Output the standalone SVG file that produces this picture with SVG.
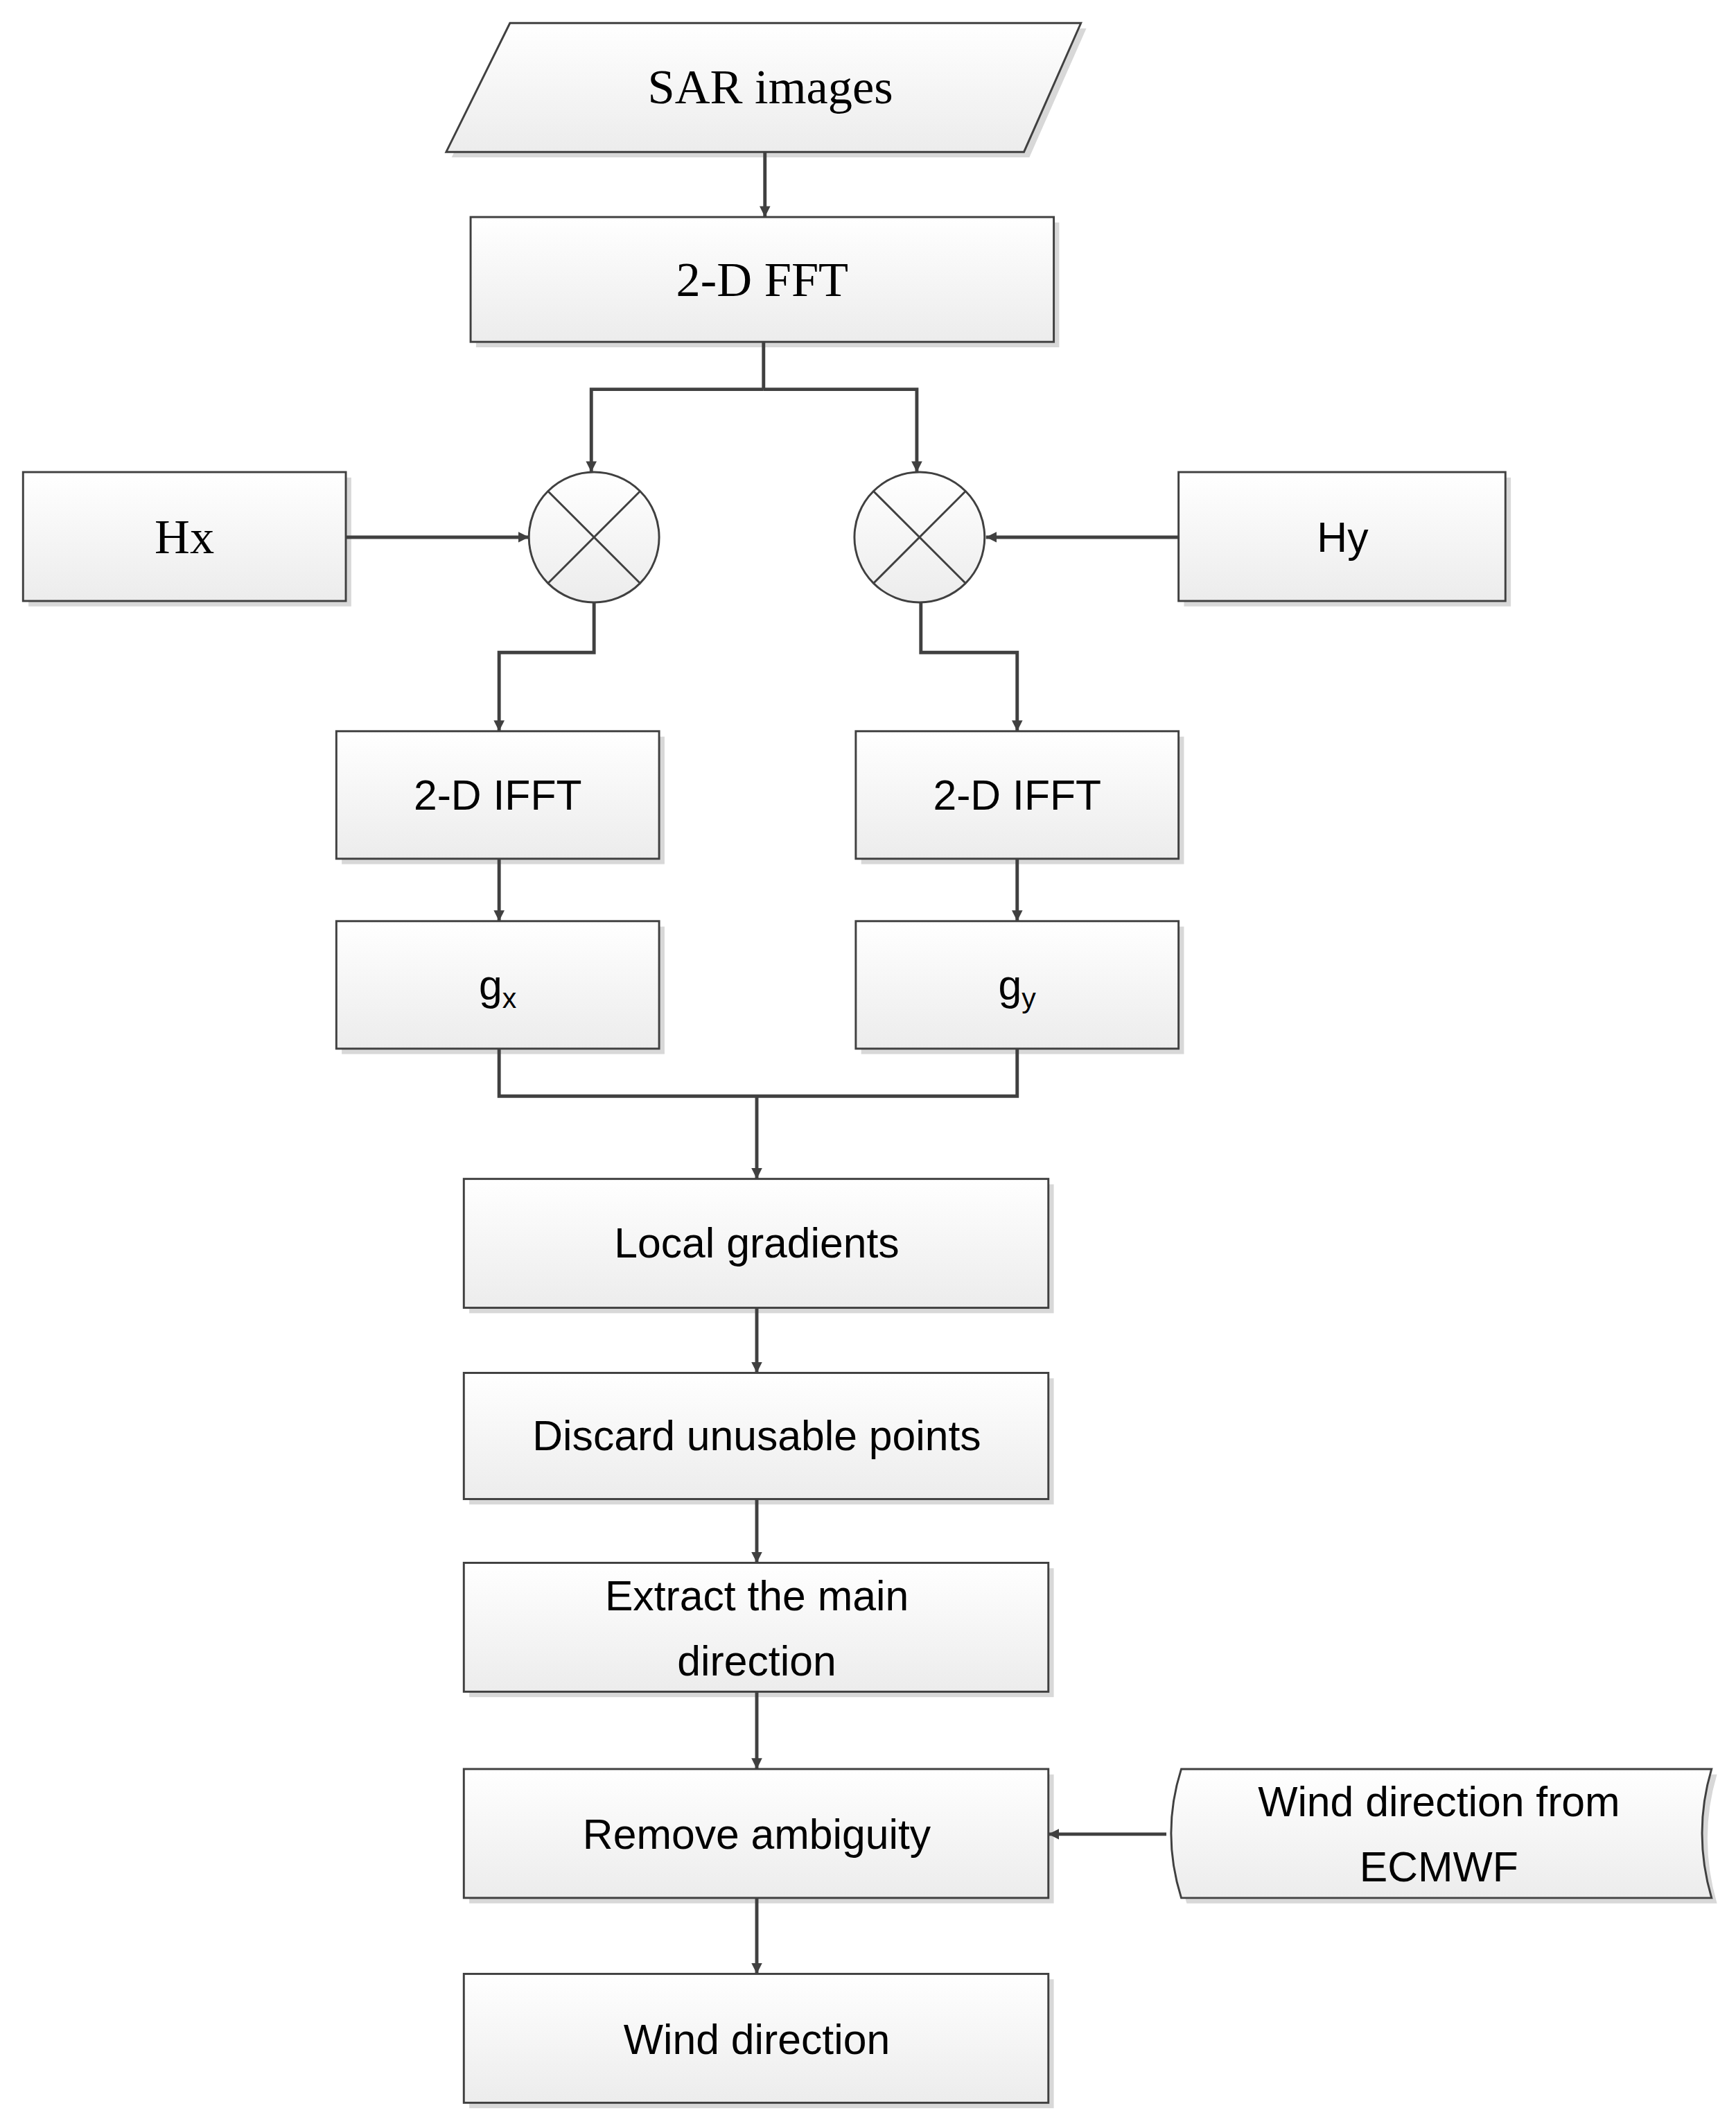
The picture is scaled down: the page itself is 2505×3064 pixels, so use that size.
<svg xmlns="http://www.w3.org/2000/svg" width="2505" height="3064" viewBox="0 0 2505 3064">
<defs>
<linearGradient id="g" x1="0" y1="0" x2="0" y2="1"><stop offset="0" stop-color="#ffffff"/><stop offset="1" stop-color="#ececec"/></linearGradient>
<marker id="a" viewBox="0 0 10 10" refX="10" refY="5" markerWidth="8" markerHeight="8" markerUnits="userSpaceOnUse" orient="auto"><path d="M0,0 L10,5 L0,10 z" fill="#404040"/></marker>
<style>
.n{fill:url(#g);stroke:#404040;stroke-width:1.5}
.sh{fill:#d8d8d8}
.c{fill:none;stroke:#404040;stroke-width:2.5}
.ts{font-family:"Liberation Serif",serif;font-size:36px;text-anchor:middle;fill:#000}
.t{font-family:"Liberation Sans",sans-serif;font-size:31px;text-anchor:middle;fill:#000}
</style>
</defs>
<rect width="2505" height="3064" fill="#fff"/>
<g transform="scale(1.957)">
<g id="sar"><polygon class="sh" points="380,21 801,21 759,116 333,116"/><polygon class="n" points="376,17 797,17 755,112 329,112"/><text class="ts" x="568" y="76">SAR images</text></g>
<g id="fft"><rect class="sh" x="351" y="164" width="430" height="92"/><rect class="n" x="347" y="160" width="430" height="92"/><text class="ts" x="562" y="218">2-D FFT</text></g>
<g id="hx"><rect class="sh" x="21" y="352" width="238" height="95"/><rect class="n" x="17" y="348" width="238" height="95"/><text class="ts" x="136" y="408">Hx</text></g>
<g id="hy"><rect class="sh" x="873" y="352" width="241" height="95"/><rect class="n" x="869" y="348" width="241" height="95"/><text class="t" x="990" y="407">Hy</text></g>
<g id="m1"><circle class="n" cx="438" cy="396" r="48"/><path d="M404,362 L472,430 M472,362 L404,430" stroke="#404040" stroke-width="1.5"/></g>
<g id="m2"><circle class="n" cx="678" cy="396" r="48"/><path d="M644,362 L712,430 M712,362 L644,430" stroke="#404040" stroke-width="1.5"/></g>
<g id="ifft1"><rect class="sh" x="252" y="543" width="238" height="94"/><rect class="n" x="248" y="539" width="238" height="94"/><text class="t" x="367" y="597">2-D IFFT</text></g>
<g id="ifft2"><rect class="sh" x="635" y="543" width="238" height="94"/><rect class="n" x="631" y="539" width="238" height="94"/><text class="t" x="750" y="597">2-D IFFT</text></g>
<g id="gx"><rect class="sh" x="252" y="683" width="238" height="94"/><rect class="n" x="248" y="679" width="238" height="94"/><text class="t" x="367" y="737">g<tspan font-size="21" dy="6">x</tspan></text></g>
<g id="gy"><rect class="sh" x="635" y="683" width="238" height="94"/><rect class="n" x="631" y="679" width="238" height="94"/><text class="t" x="750" y="737">g<tspan font-size="21" dy="6">y</tspan></text></g>
<g id="local"><rect class="sh" x="346" y="873" width="431" height="95"/><rect class="n" x="342" y="869" width="431" height="95"/><text class="t" x="558" y="927">Local gradients</text></g>
<g id="discard"><rect class="sh" x="346" y="1016" width="431" height="93"/><rect class="n" x="342" y="1012" width="431" height="93"/><text class="t" x="558" y="1069">Discard unusable points</text></g>
<g id="extract"><rect class="sh" x="346" y="1156" width="431" height="95"/><rect class="n" x="342" y="1152" width="431" height="95"/><text class="t" x="558" y="1187">Extract the main</text><text class="t" x="558" y="1235">direction</text></g>
<g id="remove"><rect class="sh" x="346" y="1308" width="431" height="95"/><rect class="n" x="342" y="1304" width="431" height="95"/><text class="t" x="558" y="1363">Remove ambiguity</text></g>
<g id="ecmwf"><path class="sh" d="M875,1308 L1266,1308 Q1252,1355 1266,1403 L875,1403 Q860,1355 875,1308 z"/><path class="n" d="M871,1304 L1262,1304 Q1248,1351 1262,1399 L871,1399 Q856,1351 871,1304 z"/><text class="t" x="1061" y="1339">Wind direction from</text><text class="t" x="1061" y="1387">ECMWF</text></g>
<g id="wind"><rect class="sh" x="346" y="1459" width="431" height="95"/><rect class="n" x="342" y="1455" width="431" height="95"/><text class="t" x="558" y="1514">Wind direction</text></g>
</g>
<g id="connectors" transform="scale(1.957)">
<path class="c" d="M564,112 L564,160" marker-end="url(#a)"/>
<path class="c" d="M563,252 L563,287"/>
<path class="c" d="M563,287 L436,287 L436,348" marker-end="url(#a)"/>
<path class="c" d="M563,287 L676,287 L676,348" marker-end="url(#a)"/>
<path class="c" d="M255,396 L390,396" marker-end="url(#a)"/>
<path class="c" d="M869,396 L727,396" marker-end="url(#a)"/>
<path class="c" d="M438,444 L438,481 L368,481 L368,539" marker-end="url(#a)"/>
<path class="c" d="M679,444 L679,481 L750,481 L750,539" marker-end="url(#a)"/>
<path class="c" d="M368,633 L368,679" marker-end="url(#a)"/>
<path class="c" d="M750,633 L750,679" marker-end="url(#a)"/>
<path class="c" d="M368,773 L368,808 L750,808 L750,773"/>
<path class="c" d="M558,808 L558,869" marker-end="url(#a)"/>
<path class="c" d="M558,964 L558,1012" marker-end="url(#a)"/>
<path class="c" d="M558,1105 L558,1152" marker-end="url(#a)"/>
<path class="c" d="M558,1247 L558,1304" marker-end="url(#a)"/>
<path class="c" d="M860,1352 L773,1352" marker-end="url(#a)"/>
<path class="c" d="M558,1399 L558,1455" marker-end="url(#a)"/>
</g>
</svg>
